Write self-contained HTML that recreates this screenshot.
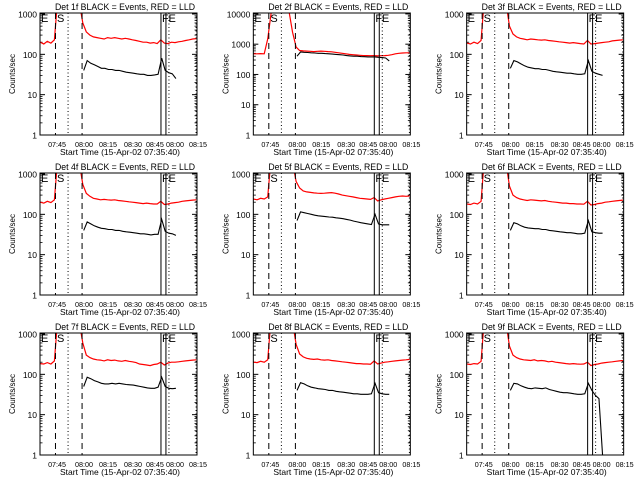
<!DOCTYPE html>
<html><head><meta charset="utf-8"><style>
html,body{margin:0;padding:0;background:#fff;}
svg{display:block;font-family:"Liberation Sans",sans-serif;}
</style></head><body>
<svg id="chart" width="640" height="480" viewBox="0 0 640 480">
<rect width="640" height="480" fill="#fff"/>
</svg>
<script>
// Red series times (minutes after 07:30), step 2
const redTimes = [6.5,8.5,10.5,12.5,14.5,16.5,18.5,20.5,22.5,24.5,26.5,28.5,30.5,32.5,34.5,36.5,38.5,40.5,42.5,44.5,46.5,48.5,50.5,52.5,54.5,56.5,58.5,60.5,62.5,64.5,66.5,68.5,70.5,72.5,74.5,76.5,78.5,80.5,82.5,84.5,86.5,88.5,90.5,92.5,94.5];
const blackTimes = [31,33,35,37,39,41,43,45,47,49,51,53,55,57,59,61,63,65,67,69,71,73,75,77,79,81,83];
const detNames = ['Det 1f','Det 2f','Det 3f','Det 4f','Det 5f','Det 6f','Det 7f','Det 8f','Det 9f'];
const red1 = [200,180,210,190,230,3000,3000,3000,3000,3000,3000,2000,600,360,300,270,260,250,240,260,250,260,250,240,250,240,230,220,210,200,200,190,195,185,230,190,185,200,195,205,210,220,230,240,245];
const red2 = [480,480,490,480,1500,12000,15000,15000,15000,15000,12000,2500,800,620,600,590,580,570,580,590,580,570,560,540,520,500,480,460,450,440,430,420,420,415,420,410,415,420,430,450,480,500,510,520,520];
const red3 = [190,180,200,185,220,3000,3000,3000,3000,3000,3000,2000,500,320,270,250,240,230,240,235,230,225,230,220,215,210,205,200,195,190,195,190,185,180,220,180,185,190,195,200,205,215,220,225,230];
const red4 = [200,190,210,195,230,3000,3000,3000,3000,3000,3000,2000,550,330,280,250,240,230,235,230,225,230,220,215,210,205,200,195,190,185,190,185,180,180,210,175,180,190,195,200,210,215,220,225,230];
const red5 = [240,230,250,240,270,3000,3000,3000,3000,3000,3000,2000,650,450,380,360,350,340,335,330,335,340,345,335,320,300,290,280,270,260,250,245,240,235,260,215,230,240,250,260,270,280,285,280,285];
const red6 = [180,175,190,180,210,3000,3000,3000,3000,3000,3000,2000,500,300,260,240,230,220,230,225,220,215,220,210,205,200,195,190,190,185,185,180,180,178,210,170,175,185,190,200,205,210,215,220,225];
const red7 = [185,180,195,180,215,3000,3000,3000,3000,3000,3000,2000,600,300,260,240,230,225,215,230,220,225,215,210,220,210,205,195,180,175,170,165,175,180,200,170,190,200,200,205,210,215,220,225,230];
const red8 = [200,195,210,200,230,3000,3000,3000,3000,3000,3000,2000,550,320,270,250,240,235,240,230,225,230,220,215,210,205,200,195,190,185,185,180,180,178,215,180,190,200,205,210,215,220,225,230,235];
const red9 = [180,175,185,180,210,3000,3000,3000,3000,3000,3000,2000,500,300,260,240,230,225,220,230,215,220,215,205,210,200,195,190,185,180,185,180,178,180,200,165,175,180,190,195,200,205,210,215,220];
const black1 = [40,70,60,55,50,45,45,42,42,40,40,38,36,35,34,33,32,32,30,30,31,32,80,40,35,33,25];
const black2 = [400,550,540,530,520,510,500,500,490,480,470,460,450,440,420,410,400,400,390,385,380,380,380,370,360,350,280];
const black3 = [45,70,65,58,52,48,46,44,44,42,42,40,38,37,36,35,34,34,33,32,32,33,70,38,34,32,30];
const black4 = [40,65,58,52,48,45,44,42,42,40,40,38,37,36,35,34,33,33,32,31,32,32,75,38,34,33,30];
const black5 = [70,115,110,105,100,95,92,90,88,86,85,82,80,78,75,72,68,65,62,60,58,56,100,58,55,55,55];
const black6 = [40,62,58,52,48,46,45,44,44,42,42,40,39,38,37,36,35,35,34,33,33,34,70,37,35,34,34];
const black7 = [50,85,78,70,65,60,58,58,60,58,60,58,56,55,54,52,50,48,46,45,45,48,85,50,45,44,45];
const black8 = [40,62,58,52,48,46,44,43,42,40,40,38,37,36,35,34,33,33,32,32,32,33,60,35,33,32,32];
const black9 = [40,60,58,52,48,45,44,46,45,44,46,42,40,38,36,35,35,34,33,32,32,33,60,40,30,25,1];
const reds = [red1,red2,red3,red4,red5,red6,red7,red8,red9];
const blacks = [black1,black2,black3,black4,black5,black6,black7,black8,black9];
const xTickTimes = [16,31.2,44.7,58.8,71.2,82.5,95.5];
const xTickLabels = ['07:45','08:00','08:15','08:30','08:45','08:00','08:15'];
const dashedTimes = [15.1,30.1];
const dottedTimes = [22.2,79.1,94.4];
const solidTimes = [74.6,77.4];

const NS='http://www.w3.org/2000/svg';
const svg=document.getElementById('chart');
function mk(tag,attrs,parent){const e=document.createElementNS(NS,tag);for(const k in attrs)e.setAttribute(k,attrs[k]);parent.appendChild(e);return e;}
const L=40,R=197,T=13,B=135;
function xs(t){return 55.3+(t-15)*1.773;}

for(let p=0;p<9;p++){
  const col=p%3,row=Math.floor(p/3);
  const big = p===1;
  const ymaxLog = big?4.03:3.025;
  const ys = v=>B-(Math.log10(Math.max(v,1)))/ymaxLog*(B-T);
  const g=mk('g',{transform:`translate(${(col*213.33).toFixed(2)},${row*160})`},svg);
  
  
  const cid='clip'+p;
  const cp=mk('clipPath',{id:cid},g);mk('rect',{x:L,y:T,width:R-L,height:B-T},cp);
  const title=mk('text',{x:125,y:10,'text-anchor':'middle','font-size':'9','textLength':'140','lengthAdjust':'spacingAndGlyphs'},g);
  title.textContent=detNames[p]+' BLACK = Events, RED = LLD';
  
  
  const maxDec = big?4:3;
  for(let d=0;d<=maxDec;d++){
    const y=ys(Math.pow(10,d));
    const tl=mk('text',{x:37,y:y+3.5,'text-anchor':'end','font-size':'8.5'},g);
    tl.textContent=String(Math.pow(10,d));
    
    
    mk('line',{x1:L,x2:L+5,y1:y,y2:y,stroke:'#000'},g);
    mk('line',{x1:R-5,x2:R,y1:y,y2:y,stroke:'#000'},g);
    for(let m=2;m<10&&d<maxDec;m++){
      const ym=ys(m*Math.pow(10,d));
      mk('line',{x1:L,x2:L+2.5,y1:ym,y2:ym,stroke:'#000','stroke-width':0.8},g);
      mk('line',{x1:R-2.5,x2:R,y1:ym,y2:ym,stroke:'#000','stroke-width':0.8},g);
    }
  }
  const yt=mk('text',{x:0,y:0,'text-anchor':'middle','font-size':'8',transform:'translate(15,74) rotate(-90)'},g);
  yt.textContent='Counts/sec';
  
  
  xTickTimes.forEach((t,i)=>{
    const tx=mk('text',{x:xs(t),y:147,'text-anchor':'middle','font-size':'7.5','textLength':'18','lengthAdjust':'spacingAndGlyphs'},g);
    tx.textContent=xTickLabels[i];
    
    
  });
  const xt=mk('text',{x:120,y:155,'text-anchor':'middle','font-size':'8.5'},g);
  xt.textContent='Start Time (15-Apr-02 07:35:40)';
  
  
  const cg=mk('g',{'clip-path':`url(#${cid})`},g);
  let d='';redTimes.forEach((t,i)=>{d+=(i?'L':'M')+xs(t).toFixed(1)+' '+ys(reds[p][i]).toFixed(1);});
  const rl=mk('path',{d:d,fill:'none',stroke:'#f00','stroke-width':1.2},cg);
  
  
  d='';blackTimes.forEach((t,i)=>{d+=(i?'L':'M')+xs(t).toFixed(1)+' '+ys(blacks[p][i]).toFixed(1);});
  const bl=mk('path',{d:d,fill:'none',stroke:'#000','stroke-width':1.1},cg);
  
  
  dashedTimes.forEach(t=>mk('line',{x1:xs(t),x2:xs(t),y1:T,y2:B,stroke:'#000','stroke-dasharray':'6,4'},g));
  dottedTimes.forEach(t=>mk('line',{x1:xs(t),x2:xs(t),y1:T,y2:B,stroke:'#000','stroke-dasharray':'1,2.5'},g));
  solidTimes.forEach(t=>mk('line',{x1:xs(t),x2:xs(t),y1:T,y2:B,stroke:'#000'},g));
  [['E',41],['S',57],['F',162],['E',168.5]].forEach(([s,x])=>{
    const m=mk('text',{x:x,y:22,'font-size':'11'},g);m.textContent=s;
    
    
  });
  mk('rect',{x:L,y:T,width:R-L,height:B-T,fill:'none',stroke:'#000'},g);
}
</script>
</body></html>
